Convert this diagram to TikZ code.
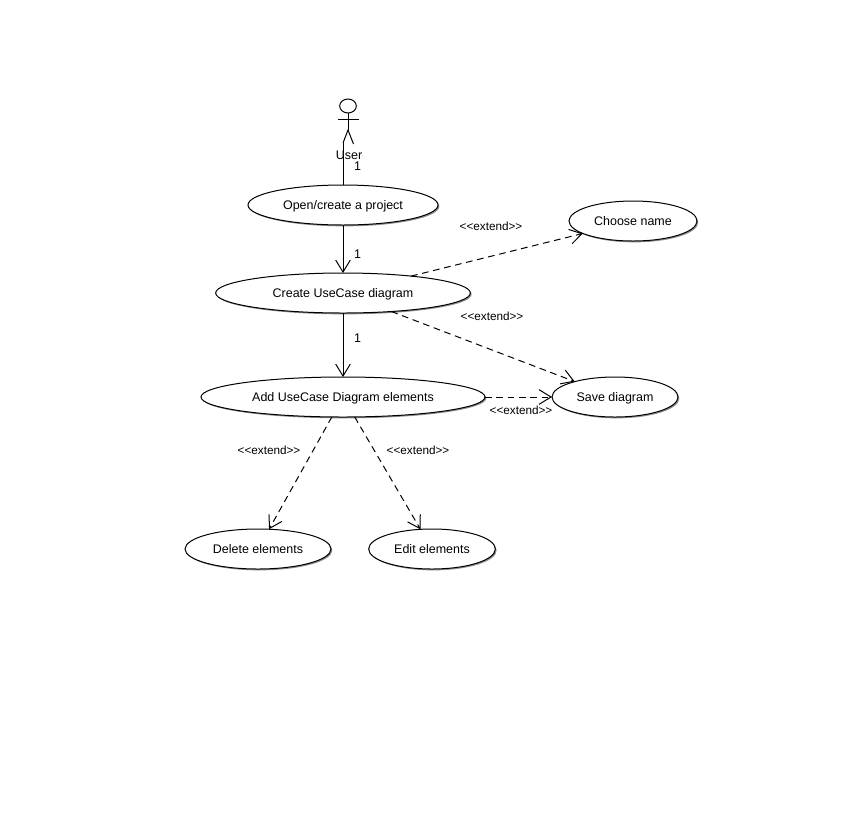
\documentclass[tikz,border=0pt]{standalone}
\usepackage{fontspec}
\setmainfont{Liberation Sans}
\usetikzlibrary{positioning}
\usetikzlibrary{arrows.meta}
\usetikzlibrary{shapes.geometric}
\usetikzlibrary{shadows}

\newcommand{\extendtxt}{<{}<extend>{}>}

\tikzset{
	usecase/.style={ellipse,draw=black,fill=white,minimum height=30pt,inner sep=0pt,outer sep=0pt,text height=8pt,text depth=2pt,font=\fontsize{9.35pt}{11pt}\selectfont,drop shadow={shadow xshift=1pt,shadow yshift=-1pt,fill=black!45,opacity=1}},
	ext_txt/.style={font=\fontsize{8.8pt}{10pt}\selectfont,inner sep=0pt},
	mult_txt/.style={font=\fontsize{9.35pt}{11pt}\selectfont,inner sep=0pt},
	extend_line/.style={->,dash pattern=on 5pt off 3.5pt},
}

\begin{document}
\begin{tikzpicture}[>={Straight Barb[length=9pt,width=11pt]},x=.75pt,y=-.75pt,line width=.75pt]
	\useasboundingbox (0,0) rectangle (866,836);

	% use cases
	\node [usecase,minimum width=142.5pt] at (343,205) (open_prj) {Open/create a project};
	\node [usecase,minimum width=191pt,below=36pt of open_prj] (create_uc) {Create UseCase diagram};
	\node [usecase,minimum width=213pt,below=48pt of create_uc] (add_elems) {Add UseCase Diagram elements};
	\node [usecase,minimum width=96pt] at (633,221) (choose_name) {Choose name};
	\node [usecase,minimum width=94.5pt] at (615,397) (save_diag) {Save diagram};
	\node [usecase,minimum width=109.5pt] at (258,549) (del_elems) {Delete elements};
	\node [usecase,minimum width=95pt] at (432,549) (edit_elems) {Edit elements};

	% actor
	\node [ellipse,draw=black,minimum width=12.5pt,minimum height=10.5pt,inner sep=0pt,outer sep=0pt] at (348,106) (user_head) {};
	\coordinate (user_hip) at (348,130);
	\coordinate (user_arm_l) at (338,119);
	\coordinate (user_arm_r) at (359,119);
	\coordinate (user_leg_l) at (343,143);
	\coordinate (user_leg_r) at (353.5,144);
	\draw (user_head) -- (user_hip);
	\draw (user_arm_l) -- (user_arm_r);
	\draw (user_leg_l) -- (user_hip) -- (user_leg_r);
	\node [mult_txt] at (349,155) (user_txt) {User};

	% associations
	\draw (user_leg_l) -- (user_leg_l |- open_prj.north);
	\draw [->] (open_prj) -- (create_uc);
	\draw [->] (create_uc) -- (add_elems);
	\node [mult_txt] at (357.5,166) (mult_user) {1};
	\node [mult_txt] at (357.5,254) (mult_open) {1};
	\node [mult_txt] at (357.5,338) (mult_create) {1};

	% extends
	\draw [extend_line] (create_uc) -- (choose_name);
	\draw [extend_line] (create_uc) -- (save_diag);
	\draw [extend_line] (add_elems) -- (save_diag);
	\draw [extend_line] (add_elems) -- (del_elems);
	\draw [extend_line] (add_elems) -- (edit_elems);
	\node [ext_txt] at (491,226) (ext_choose) {\extendtxt};
	\node [ext_txt] at (492,316) (ext_save0) {\extendtxt};
	\node [ext_txt] at (521,410) (ext_save1) {\extendtxt};
	\node [ext_txt] at (269,450) (ext_del) {\extendtxt};
	\node [ext_txt] at (418,450) (ext_edit) {\extendtxt};
\end{tikzpicture}
\end{document}
